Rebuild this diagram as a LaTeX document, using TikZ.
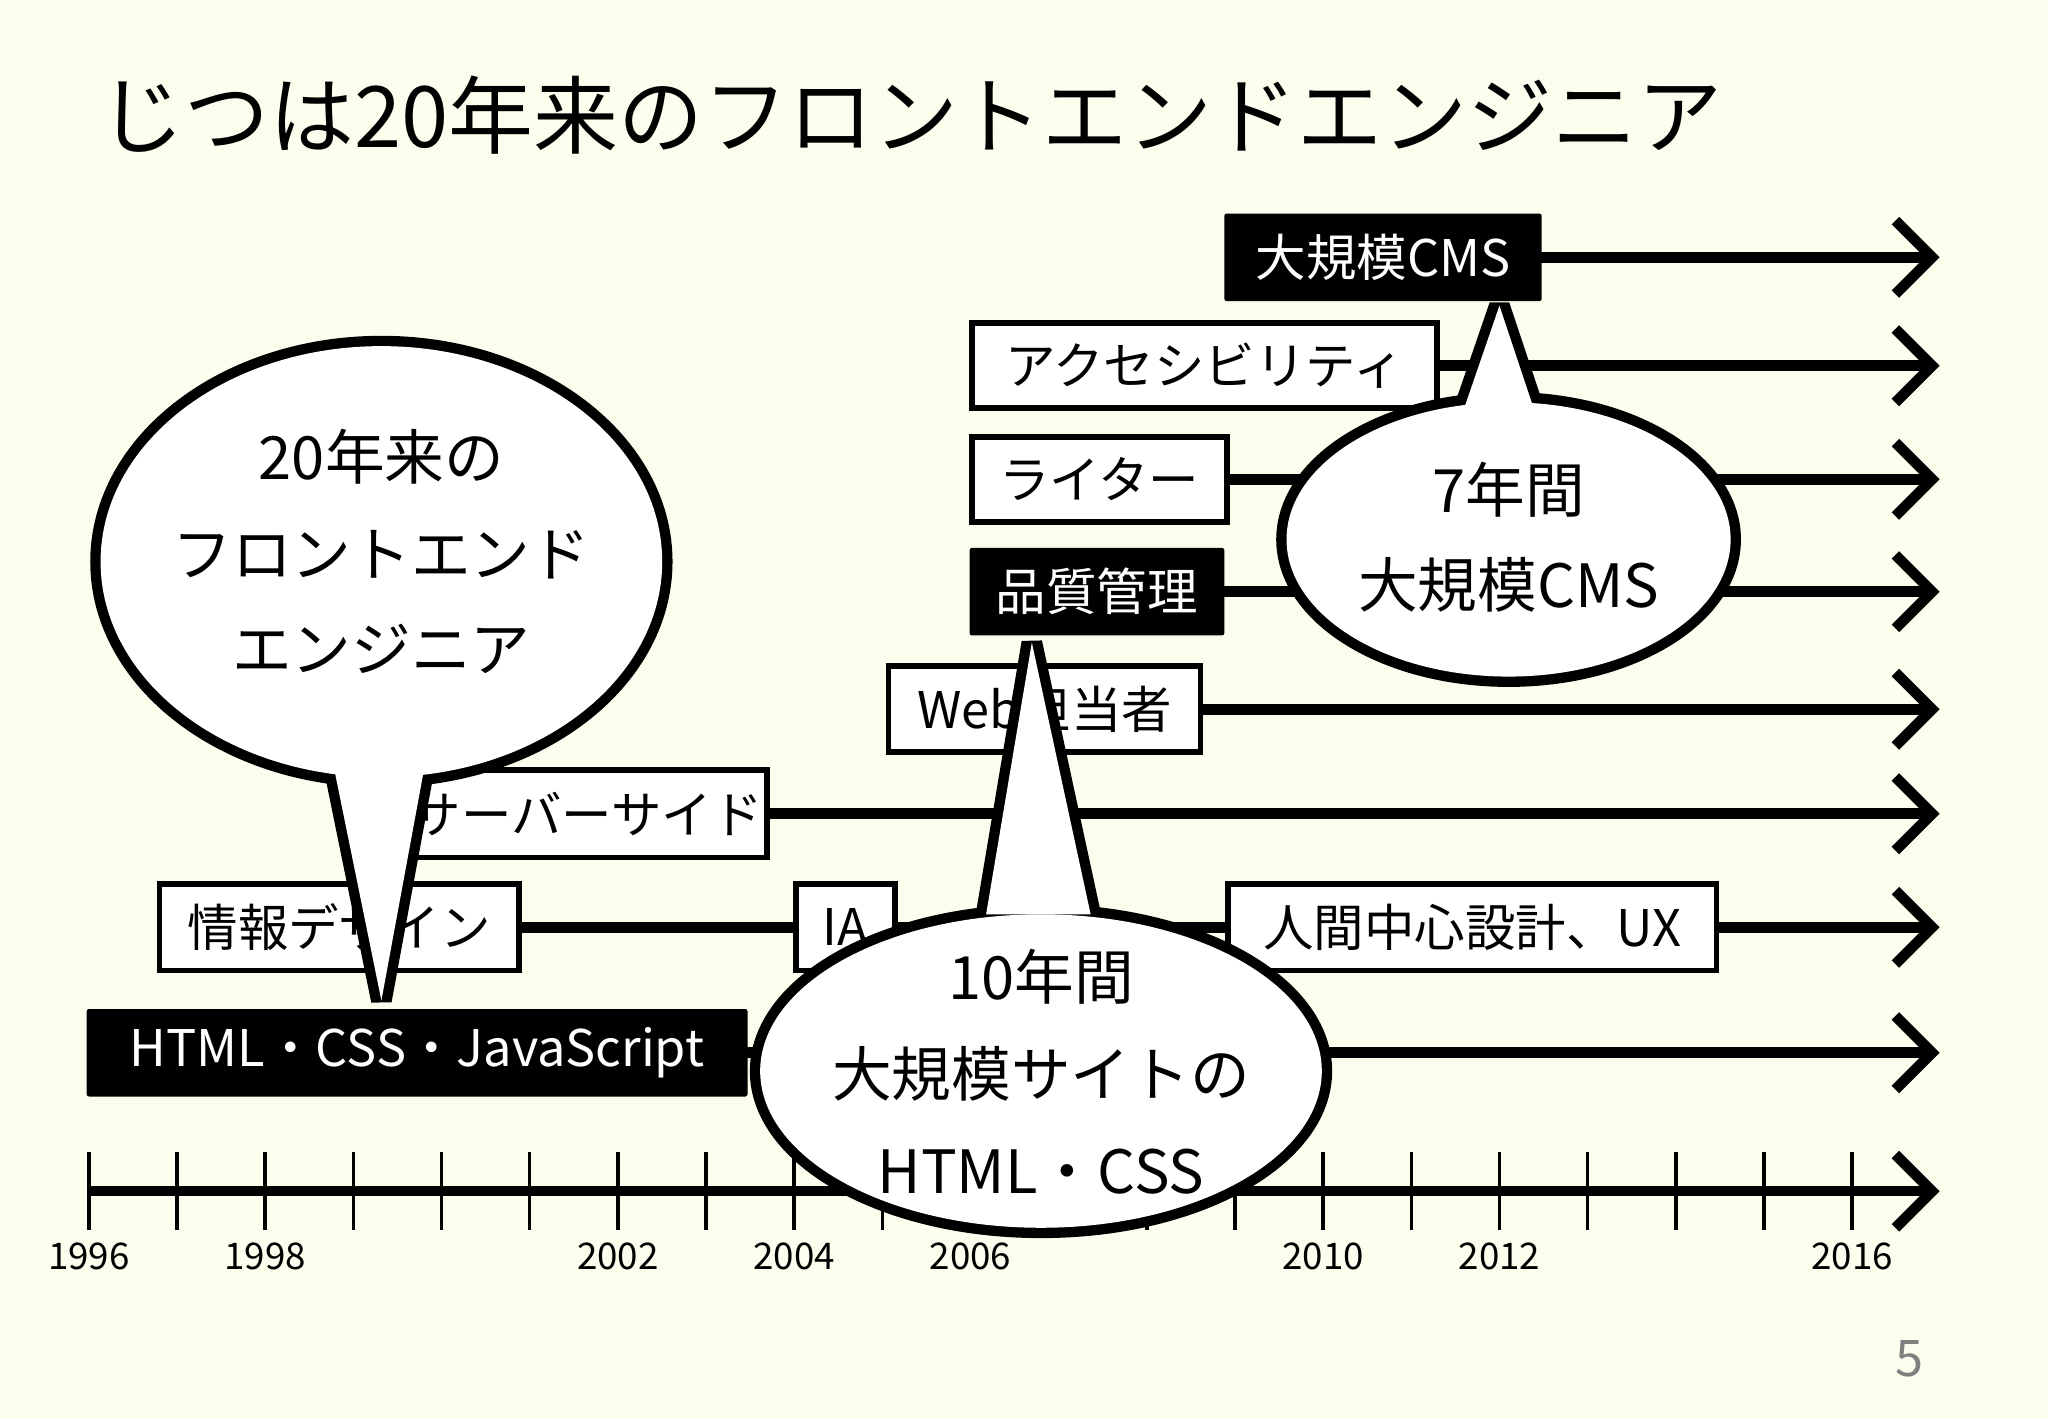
\documentclass[tikz,border=0pt]{standalone}
\usepackage{fontspec}
\setmainfont{Noto Sans CJK JP}
\usetikzlibrary{arrows.meta}
\definecolor{bg}{HTML}{FDFDEE}
\begin{document}
\begin{tikzpicture}[x=0.02cm,y=-0.02cm,
  ln/.style={line width=4.6pt,-{Straight Barb[length=16pt,width=32pt,line width=4.6pt]}},
  wbox/.style={draw,line width=2.5pt,fill=white,font=\fontsize{22}{24}\selectfont,inner sep=0pt,anchor=west},
  bbox/.style={fill=black,text=white,font=\fontsize{22}{24}\selectfont,inner sep=0pt,anchor=west,rounded corners=1pt},
  ct/.style={font=\fontsize{26}{30}\selectfont},
  yr/.style={font=\fontsize{16}{18}\selectfont}]
\fill[bg] (0,0) rectangle (1568,1086);
\useasboundingbox (0,0) rectangle (1568,1086);
\node[anchor=west,font=\fontsize{37}{40}\selectfont] (title) at (70,88) {じつは20年来のフロントエンドエンジニア};
\foreach \n/\y in {a/197,b/280,c/367,d/453,e/543,f/623,g/710,h/806,t/912}{\coordinate (end\n) at (1485,\y);}
\draw[ln] (1180,197) -- (enda);
\draw[ln] (1098,280) -- (endb);
\draw[ln] (937,367) -- (endc);
\draw[ln] (937,453) -- (endd);
\draw[ln] (917,543) -- (ende);
\draw[ln] (585,623) -- (endf);
\draw[ln] (395,710) -- (endg);
\draw[ln] (572,806) -- (endh);
\coordinate (t0) at (68,912);
\draw[ln] (t0) -- (endt);
\foreach \k in {0,...,20}{\draw[line width=1.5pt] (68+\k*67.5,882) -- (68+\k*67.5,942);}
\foreach \k/\yy in {0/1996,2/1998,6/2002,8/2004,10/2006,14/2010,16/2012,20/2016}{\node[yr] (y\yy) at (68+\k*67.5,962) {\yy};}
\node[bbox,minimum width=243*0.02cm,minimum height=67*0.02cm] (cms) at (937,197) {大規模CMS};
\node[wbox,minimum width=356*0.02cm,minimum height=65*0.02cm] (acc) at (742,280) {アクセシビリティ};
\node[wbox,minimum width=195*0.02cm,minimum height=65*0.02cm] (wri) at (742,367) {ライター};
\node[bbox,minimum width=195*0.02cm,minimum height=67*0.02cm] (qa) at (742,453) {品質管理};
\node[wbox,minimum width=239*0.02cm,minimum height=66*0.02cm] (web) at (678,543) {Web担当者};
\node[wbox,minimum width=290*0.02cm,minimum height=67*0.02cm] (srv) at (295,623) {\hspace{8pt}サーバーサイド};
\node[wbox,minimum width=275*0.02cm,minimum height=66*0.02cm] (info) at (120,710) {情報デザイン};
\node[wbox,minimum width=76*0.02cm,minimum height=66*0.02cm] (ia) at (607,710) {IA};
\node[wbox,minimum width=374*0.02cm,minimum height=66*0.02cm] (hcd) at (938,710) {人間中心設計、UX};
\node[bbox,minimum width=506*0.02cm,minimum height=67*0.02cm] (html) at (66,806) {HTML・CSS・JavaScript};
\foreach \cx/\cy/\rx/\ry/\ax/\bx/\by/\tx/\ty in {292/430/215/165/250/330/560/292/766, 797/820/215/120/755/835/700/790/492, 1155/413/170/105/1115/1180/330/1148/234}{
  \draw[line width=9pt] (\cx,\cy) ellipse [x radius=\rx, y radius=\ry];
  \draw[line width=9pt,line join=miter,miter limit=3] (\ax,\by) -- (\tx,\ty) -- (\bx,\by);
  \fill[white] (\cx,\cy) ellipse [x radius=\rx, y radius=\ry];
  \fill[white] (\ax,\by) -- (\tx,\ty) -- (\bx,\by) -- cycle;
}
\node[ct] (c1a) at (292,350) {20年来の};
\node[ct] (c1b) at (292,425) {フロントエンド};
\node[ct] (c1c) at (292,497) {エンジニア};
\node[ct] (c2a) at (797,748) {10年間};
\node[ct] (c2b) at (797,822) {大規模サイトの};
\node[ct] (c2c) at (797,897) {HTML・CSS};
\node[ct] (c3a) at (1155,375) {7年間};
\node[ct] (c3b) at (1155,448) {大規模CMS};
\node[text=gray,font=\fontsize{22}{24}\selectfont] (pg) at (1462,1040) {5};
\end{tikzpicture}
\end{document}
